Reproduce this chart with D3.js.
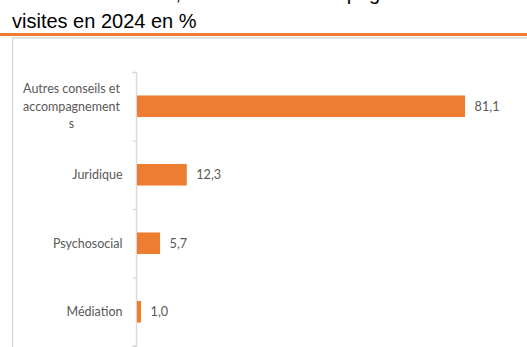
<!DOCTYPE html>
<html>
<head>
<meta charset="utf-8">
<script src="https://cdn.jsdelivr.net/npm/d3@7"></script>
<style>
  html, body { margin: 0; padding: 0; background: #fff; overflow: hidden; }
  svg { display: block; }
</style>
</head>
<body>
<script>
// ---- data ----
const titleLines = ["Thèmes des aides, consultations des pages et des", "visites en 2024 en %"];
const categories = ["Autres conseils et\naccompagnement\ns", "Juridique", "Psychosocial", "Médiation"];
const values = [81.1, 12.3, 5.7, 1.0];
const valueLabels = ["81,1", "12,3", "5,7", "1,0"];

// ---- setup ----
const W = 527, H = 347;
const svg = d3.select("body").append("svg").attr("width", W).attr("height", H);

const orange = "#ED7D31";
const grey = "#d9d9d9";
const textGrey = "#595959";

// title (first line is scrolled off the top in the reference; only its descenders show)
svg.selectAll("text.title").data(titleLines).join("text")
  .attr("class", "title")
  .attr("x", 12)
  .attr("y", (d, i) => i === 0 ? 0.3 : 27.5)
  .attr("font-family", "'Liberation Sans', Arial, sans-serif")
  .attr("font-size", 20)
  .attr("fill", "#000")
  .text(d => d);

// orange rule under title
svg.append("rect").attr("x", 0).attr("y", 33).attr("width", W).attr("height", 3).attr("fill", orange);

// chart frame (top and left borders visible)
svg.append("path")
  .attr("d", `M12.5,${H + 2} L12.5,38 L${W + 2},38`)
  .attr("fill", "none").attr("stroke", grey).attr("stroke-width", 1.5);

// scales
const x = d3.scaleLinear().domain([0, 90]).range([137, 137 + 90 * 4.045]);
const y = d3.scaleBand().domain(categories).range([72, 346]).padding(0);
const barH = y.bandwidth() * 0.315;

// axis with ticks at category boundaries
const yb = d3.scaleLinear().domain([0, categories.length]).range([72, 346]);
const axisG = svg.append("g").attr("transform", `translate(${x(0) - 0.5},0)`)
  .call(d3.axisLeft(yb).tickValues(d3.range(categories.length + 1)).tickSize(4).tickFormat(""));
axisG.select(".domain").attr("stroke", grey).attr("stroke-width", 1.5).attr("d", `M-4,72.5H0V346H-4`);
axisG.selectAll(".tick line").attr("stroke", grey).attr("stroke-width", 1.2);

// bars
svg.selectAll("rect.bar").data(values).join("rect")
  .attr("class", "bar")
  .attr("x", x(0))
  .attr("y", (d, i) => y(categories[i]) + (y.bandwidth() - barH) / 2)
  .attr("width", d => x(d) - x(0))
  .attr("height", barH)
  .attr("fill", orange);

// value labels
svg.selectAll("text.val").data(values).join("text")
  .attr("class", "val")
  .attr("x", d => x(d) + 9.5)
  .attr("y", (d, i) => y(categories[i]) + y.bandwidth() / 2)
  .attr("dy", "0.35em")
  .attr("font-family", "Lato, 'Open Sans', sans-serif")
  .attr("font-size", 12.7)
  .attr("fill", textGrey)
  .text((d, i) => valueLabels[i]);

// category labels
const labelFont = "Lato, 'Open Sans', sans-serif";
categories.forEach((c, i) => {
  const lines = c.split("\n");
  const cy = y(c) + y.bandwidth() / 2;
  const lh = 17.5;
  const multi = lines.length > 1;
  const t = svg.append("text")
    .attr("font-family", labelFont)
    .attr("font-size", 12.5)
    .attr("fill", textGrey)
    .attr("text-anchor", multi ? "middle" : "end");
  lines.forEach((ln, j) => {
    t.append("tspan")
      .attr("x", multi ? 71.5 : 122.5)
      .attr("y", cy + (j - (lines.length - 1) / 2) * lh)
      .attr("dy", "0.35em")
      .text(ln);
  });
});
</script>
</body>
</html>
